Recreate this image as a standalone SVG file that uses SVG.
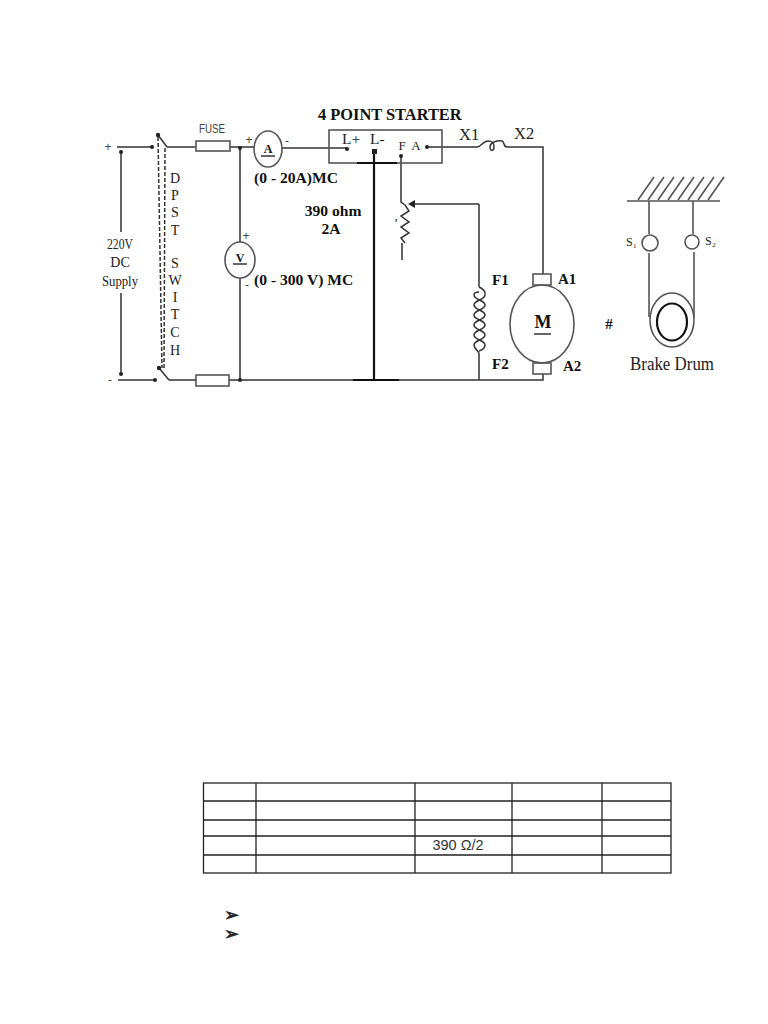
<svg xmlns="http://www.w3.org/2000/svg" width="768" height="1024" viewBox="0 0 768 1024">
<style>
.w{fill:none;stroke:#333;stroke-width:1.5}
.k{fill:none;stroke:#111;stroke-width:2.2}
.g{fill:none;stroke:#555;stroke-width:1.6}
.d{fill:#222}
text{font-family:"Liberation Serif",serif;fill:#222}
.b{font-weight:bold;fill:#111}
.s{font-family:"Liberation Sans",sans-serif;fill:#444}
.t{fill:none;stroke:#222;stroke-width:1.3}
.m{font-family:"DejaVu Sans",sans-serif;font-size:18px;stroke:#222;stroke-width:.6}
</style>
<rect width="768" height="1024" fill="#fff"/>
<g id="connectors">
<path class="w" d="M117 147H152M167 147H196M230 147H254M282 148H347M118 380H155M169 380H196M229 380H353"/>
<path class="w" d="M158 135L167 147M159 368L169 380"/>
<path class="w" d="M240 148V242M240 278V380"/>
<path class="k" d="M353 380H399M374 153V380"/>
<path class="w" d="M399 380H543V374"/>
<path class="w" d="M121 152V232M121 293V374"/>
<path class="w" stroke-dasharray="4 2" d="M158 137L162 368M165 148L164 368"/>
<path class="w" d="M427 147H477C481 147 483 141 488 141C493 141 494 143 494 147C494 151 490 152 490 147C490 142 498 140 502 141C505 142 503 147 507 147H543V274"/>
<path class="w" d="M401 156V202L405 205"/>
<path class="w" d="M405 205L409 211L401 216L409 222L401 227L409 233L401 238L405 243M402 243V260"/>
<path class="w" d="M479 204H412M479 204V287M479 353V380"/>
<path d="M408 204L415 200V208Z" fill="#222"/>
<path class="w" d="M479 287Q486 290 485 295C485 300 474 300 474 305C474 310 485 310 485 315C485 320 474 320 474 325C474 330 485 330 485 335C485 340 474 340 474 345C474 348 477 350 479 353"/>
<path class="w" d="M479 292Q474 292 474 295C474 300 485 300 485 305C485 310 474 310 474 315C474 320 485 320 485 325C485 330 474 330 474 335C474 340 485 340 485 345C485 348 482 350 479 351"/>
</g>
<g id="supply">
<circle class="d" cx="152" cy="147" r="2"/><circle class="d" cx="155" cy="380" r="2"/>
<circle class="d" cx="121" cy="152" r="2"/><circle class="d" cx="121" cy="374" r="2"/>
<text class="s" x="108" y="151" font-size="12" text-anchor="middle">+</text>
<text class="s" x="110" y="384" font-size="12" text-anchor="middle">-</text>
<text x="120" y="249" font-size="14" text-anchor="middle" textLength="26" lengthAdjust="spacingAndGlyphs">220V</text>
<text x="120" y="267" font-size="14" text-anchor="middle">DC</text>
<text x="120" y="286" font-size="14" text-anchor="middle" textLength="36" lengthAdjust="spacingAndGlyphs">Supply</text>
</g>
<g id="switch">
<circle class="d" cx="158" cy="135" r="2.2"/><circle class="d" cx="159" cy="368" r="2.2"/>
<g font-size="14" text-anchor="middle">
<text x="175" y="183">D</text><text x="175" y="200">P</text><text x="175" y="217">S</text><text x="175" y="235">T</text>
<text x="175" y="268">S</text><text x="175" y="285">W</text><text x="175" y="302">I</text><text x="175" y="319">T</text><text x="175" y="337">C</text><text x="175" y="355">H</text>
</g>
</g>
<g id="fuses">
<rect class="g" x="196" y="141" width="34" height="10"/>
<rect class="g" x="196" y="375" width="33" height="11"/>
<text class="s" x="212" y="133" font-size="13" text-anchor="middle" textLength="26" lengthAdjust="spacingAndGlyphs">FUSE</text>
<circle class="d" cx="240" cy="148" r="2"/><circle class="d" cx="240" cy="380" r="2"/>
</g>
<g id="ammeter">
<ellipse class="g" cx="268" cy="149" rx="14" ry="18"/>
<text class="b" x="268" y="153" font-size="12" text-anchor="middle">A</text>
<path class="w" d="M261 156H275"/>
<text class="s" x="249" y="144" font-size="12" text-anchor="middle">+</text>
<text class="s" x="287" y="145" font-size="12" text-anchor="middle">-</text>
<text class="b" x="254" y="183" font-size="15.6">(0 - 20A)MC</text>
</g>
<g id="voltmeter">
<ellipse class="g" cx="240" cy="260" rx="15" ry="18"/>
<text class="b" x="240" y="262" font-size="12" text-anchor="middle">V</text>
<path class="w" d="M233 264H247"/>
<text class="s" x="246" y="240" font-size="12" text-anchor="middle">+</text>
<text class="s" x="247" y="289" font-size="12" text-anchor="middle">-</text>
<text class="b" x="254" y="285" font-size="15.6">(0 - 300 V) MC</text>
</g>
<g id="starter">
<rect class="g" x="329" y="130" width="113" height="33"/>
<path class="k" d="M357 163H397"/>
<text class="b" x="318" y="120" font-size="16.400">4 POINT STARTER</text>
<text x="342" y="144" font-size="15.500">L+</text>
<text x="370" y="144" font-size="15.500">L-</text>
<text x="402" y="150" font-size="13" text-anchor="middle">F</text>
<text x="416" y="150" font-size="13" text-anchor="middle">A</text>
<circle class="d" cx="347" cy="149" r="2"/><rect class="d" x="372" y="149" width="5" height="5"/>
<circle class="d" cx="401" cy="156" r="2"/><circle class="d" cx="427" cy="147" r="2"/>
</g>
<g id="rheostat">
<text class="b" x="333" y="216" font-size="15.600" text-anchor="middle">390 ohm</text>
<text class="b" x="331" y="234" font-size="15.600" text-anchor="middle">2A</text>
<text x="396" y="220" font-size="13" text-anchor="middle">,</text>
</g>
<g id="field">
<text x="459" y="140" font-size="16.500">X1</text>
<text x="514" y="139" font-size="16.500">X2</text>
<text class="b" x="492" y="285" font-size="15">F1</text>
<text class="b" x="492" y="369" font-size="15">F2</text>
</g>
<g id="motor">
<rect class="g" x="533" y="274" width="18" height="11"/>
<rect class="g" x="533" y="363" width="18" height="11"/>
<ellipse class="g" cx="542" cy="324" rx="32" ry="39"/>
<text class="b" x="543" y="328" font-size="18" text-anchor="middle">M</text>
<path class="w" d="M534 334H551"/>
<text class="b" x="558" y="284" font-size="15">A1</text>
<text class="b" x="563" y="371" font-size="15">A2</text>
<text class="b" x="609" y="329" font-size="15" text-anchor="middle">#</text>
</g>
<g id="brake">
<path class="g" d="M627 201H720"/>
<path class="g" d="M638 200L654 177M648 200L664 177M658 200L674 177M668 200L684 177M678 200L694 177M688 200L704 177M698 200L714 177M708 200L724 177"/>
<path class="g" d="M649 201V234M693 201V234M649 253V317M694 252V317"/>
<circle class="g" cx="650" cy="243" r="8"/><circle class="g" cx="692" cy="242" r="7"/>
<ellipse class="g" cx="672" cy="320" rx="22" ry="27"/>
<ellipse cx="672" cy="322" rx="15" ry="18.500" fill="none" stroke="#111" stroke-width="2.2"/>
<text x="626" y="246" font-size="12" fill="#555">S₁</text>
<text x="705" y="245" font-size="12" fill="#555">S₂</text>
<text x="672" y="370" font-size="18" text-anchor="middle" textLength="84" lengthAdjust="spacingAndGlyphs">Brake Drum</text>
</g>
<g id="table">
<rect class="t" x="203.500" y="783" width="467.500" height="90"/>
<path class="t" d="M203 801H671M203 820H671M203 836H671M203 855H671M256 783V873M415 783V873M512 783V873M602 783V873"/>
<text class="s" x="458" y="850" font-size="15.500" text-anchor="middle" textLength="51" lengthAdjust="spacingAndGlyphs" style="fill:#333">390 Ω/2</text>
</g>
<g id="bullets">
<text class="m" x="224" y="921">➢</text>
<text class="m" x="224" y="940">➢</text>
</g>
</svg>
